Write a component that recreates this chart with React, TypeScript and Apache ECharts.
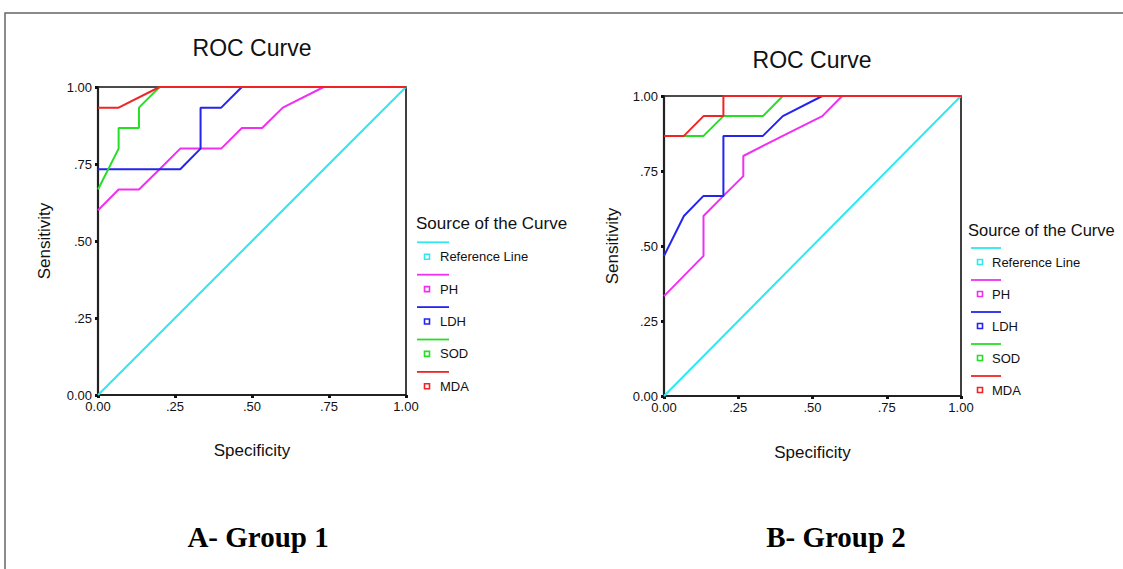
import React, { useEffect, useRef } from "react";
import * as echarts from "echarts";

const seriesNames = ["Reference Line", "PH", "LDH", "SOD", "MDA"];
const seriesColors = ["#30e8f0", "#f030f0", "#2424f0", "#24e024", "#f02424"];
const tickValues = [0, 0.25, 0.5, 0.75, 1];
const tickLabels = ["0.00", ".25", ".50", ".75", "1.00"];

// Group 1 (x = 1 - specificity, y = sensitivity)
const g1RefX = [0, 1];
const g1RefY = [0, 1];
const g1PhX = [0, 0.067, 0.133, 0.2, 0.267, 0.4, 0.467, 0.533, 0.6, 0.733, 1];
const g1PhY = [0.6, 0.667, 0.667, 0.733, 0.8, 0.8, 0.867, 0.867, 0.933, 1, 1];
const g1LdhX = [0, 0.267, 0.333, 0.333, 0.4, 0.467, 1];
const g1LdhY = [0.733, 0.733, 0.8, 0.933, 0.933, 1, 1];
const g1SodX = [0, 0.067, 0.067, 0.133, 0.133, 0.2, 1];
const g1SodY = [0.667, 0.8, 0.867, 0.867, 0.933, 1, 1];
const g1MdaX = [0, 0.067, 0.2, 1];
const g1MdaY = [0.933, 0.933, 1, 1];

// Group 2
const g2RefX = [0, 1];
const g2RefY = [0, 1];
const g2PhX = [0, 0.133, 0.133, 0.2, 0.267, 0.267, 0.4, 0.533, 0.6, 1];
const g2PhY = [0.333, 0.467, 0.6, 0.667, 0.733, 0.8, 0.867, 0.933, 1, 1];
const g2LdhX = [0, 0.067, 0.133, 0.2, 0.2, 0.333, 0.4, 0.533, 1];
const g2LdhY = [0.467, 0.6, 0.667, 0.667, 0.867, 0.867, 0.933, 1, 1];
const g2SodX = [0, 0.133, 0.2, 0.333, 0.4, 1];
const g2SodY = [0.867, 0.867, 0.933, 0.933, 1, 1];
const g2MdaX = [0, 0.067, 0.133, 0.2, 0.2, 1];
const g2MdaY = [0.867, 0.867, 0.933, 0.933, 1, 1];

const chartTitles = ["ROC Curve", "ROC Curve"];
const captions = ["A- Group 1", "B- Group 2"];
const legendTitle = "Source of the Curve";
const xName = "Specificity";
const yName = "Sensitivity";

const SANS = "'Liberation Sans', Arial, sans-serif";
const SERIF = "'Liberation Serif', 'Times New Roman', serif";

function zip(xs: number[], ys: number[]) {
  return xs.map((x, i) => [x, ys[i]]);
}

const group1 = [
  zip(g1RefX, g1RefY),
  zip(g1PhX, g1PhY),
  zip(g1LdhX, g1LdhY),
  zip(g1SodX, g1SodY),
  zip(g1MdaX, g1MdaY),
];
const group2 = [
  zip(g2RefX, g2RefY),
  zip(g2PhX, g2PhY),
  zip(g2LdhX, g2LdhY),
  zip(g2SodX, g2SodY),
  zip(g2MdaX, g2MdaY),
];

function fmt(v: number) {
  const i = tickValues.findIndex((t) => Math.abs(t - v) < 1e-9);
  return i >= 0 ? tickLabels[i] : "";
}

function makeAxis(gridIndex: number, isX: boolean, nameGap: number) {
  return {
    type: "value",
    gridIndex,
    min: 0,
    max: 1,
    interval: 0.25,
    name: isX ? xName : yName,
    nameLocation: "middle",
    nameGap,
    nameRotate: isX ? 0 : 90,
    nameTextStyle: { fontFamily: SANS, fontSize: 17, color: "#111" },
    axisLine: { show: true, lineStyle: { color: "#222", width: 2.2 } },
    axisTick: { show: true, length: 3, lineStyle: { color: "#111", width: 3 } },
    axisLabel: {
      formatter: fmt,
      fontFamily: SANS,
      fontSize: 13,
      color: "#111",
      margin: isX ? 5 : 6,
    },
    splitLine: { show: false },
  };
}

function legendGraphics(
  titleX: number,
  titleY: number,
  titleSize: number,
  lineX0: number,
  lineX1: number,
  lineY0: number,
  markX: number,
  markY0: number,
  textX: number,
  step: number
) {
  const els: any[] = [
    {
      type: "text",
      x: titleX,
      y: titleY,
      style: {
        text: legendTitle,
        fontFamily: SANS,
        fontSize: titleSize,
        fill: "#111",
        verticalAlign: "middle",
        align: "left",
      },
    },
  ];
  seriesNames.forEach((name, i) => {
    const ly = lineY0 + i * step;
    const my = markY0 + i * step;
    els.push({
      type: "line",
      shape: { x1: lineX0, y1: ly, x2: lineX1, y2: ly },
      style: { stroke: seriesColors[i], lineWidth: 1.8 },
    });
    els.push({
      type: "rect",
      shape: { x: markX - 2.5, y: my - 2.5, width: 5, height: 5 },
      style: { stroke: seriesColors[i], fill: "#fff", lineWidth: 1.6 },
    });
    els.push({
      type: "text",
      x: textX,
      y: my,
      style: {
        text: name,
        fontFamily: SANS,
        fontSize: 13,
        fill: "#111",
        verticalAlign: "middle",
        align: "left",
      },
    });
  });
  return els;
}

export default function App() {
  const ref = useRef<HTMLDivElement>(null);

  useEffect(() => {
    if (!ref.current) return;
    const chart = echarts.init(ref.current, undefined, { renderer: "svg" });

    const mkSeries = (data: number[][][], idx: number) =>
      data.map((d, i) => ({
        type: "line",
        name: seriesNames[i],
        xAxisIndex: idx,
        yAxisIndex: idx,
        data: d,
        showSymbol: false,
        symbol: "none",
        lineStyle: { color: seriesColors[i], width: 2 },
        itemStyle: { color: seriesColors[i] },
        z: 2 + i,
      }));

    const titleText = (x: number, y: number, text: string) => ({
      type: "text",
      x,
      y,
      style: {
        text,
        fontFamily: SANS,
        fontSize: 23,
        fill: "#111",
        align: "center",
        verticalAlign: "middle",
      },
    });

    const captionText = (x: number, y: number, text: string) => ({
      type: "text",
      x,
      y,
      style: {
        text,
        fontFamily: SERIF,
        fontWeight: "bold",
        fontSize: 29,
        fill: "#000",
        align: "center",
        verticalAlign: "middle",
      },
    });

    const option: any = {
      animation: false,
      backgroundColor: "#fff",
      grid: [
        {
          left: 98,
          top: 87,
          width: 308,
          height: 308,
          show: true,
          borderColor: "#111",
          borderWidth: 1.6,
        },
        {
          left: 664,
          top: 96,
          width: 297,
          height: 300,
          show: true,
          borderColor: "#111",
          borderWidth: 1.6,
        },
      ],
      xAxis: [makeAxis(0, true, 46.5), makeAxis(1, true, 47.5)],
      yAxis: [makeAxis(0, false, 45.5), makeAxis(1, false, 43.5)],
      series: [...mkSeries(group1, 0), ...mkSeries(group2, 1)],
      graphic: [
        {
          type: "rect",
          shape: { x: 5, y: 13, width: 1200, height: 700 },
          style: { stroke: "#666", fill: "none", lineWidth: 1.5 },
          silent: true,
        },
        titleText(252, 48, chartTitles[0]),
        titleText(812, 60, chartTitles[1]),
        ...legendGraphics(416, 223, 17, 417, 449, 242.3, 427, 256.7, 440, 32.4),
        ...legendGraphics(968, 230, 16.5, 971, 1001, 248, 980, 262, 992, 32),
        captionText(258, 537, captions[0]),
        captionText(836, 537, captions[1]),
      ],
    };

    chart.setOption(option);
    return () => chart.dispose();
  }, []);

  return (
    <div
      ref={ref}
      style={{ position: "absolute", left: 0, top: 0, width: 1123, height: 569 }}
    />
  );
}
